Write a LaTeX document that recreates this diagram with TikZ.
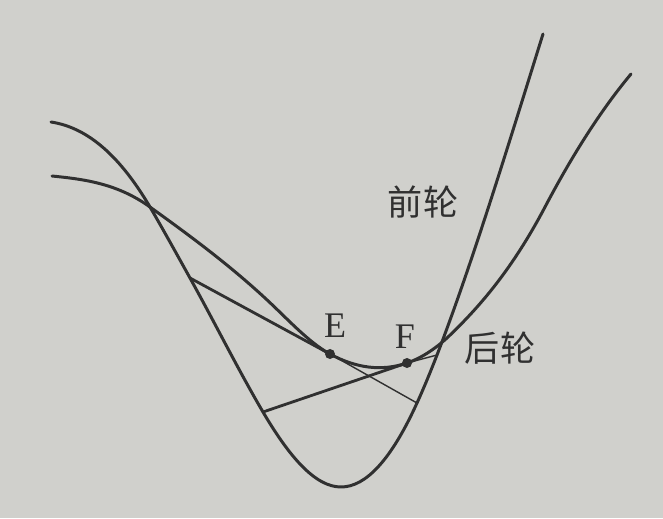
\documentclass[tikz,border=0pt]{standalone}
\usepackage{fontspec}
\setmainfont{Liberation Serif}
\newfontfamily\cjk{Noto Sans CJK SC}
\definecolor{bg}{RGB}{208,208,204}
\definecolor{ink}{RGB}{48,48,48}
\begin{document}
\begin{tikzpicture}[x=0.02cm,y=-0.02cm,
  curve/.style={draw=ink,line width=1.7pt,line cap=round,line join=round},
  thickseg/.style={draw=ink,line width=1.6pt,line cap=round},
  thinseg/.style={draw=ink,line width=0.8pt},
  dotmark/.style={circle,fill=ink,inner sep=0pt,minimum size=5.7pt},
  lbl/.style={text=ink,font=\fontsize{20.5pt}{22pt}\selectfont,inner sep=0pt},
  cjklbl/.style={text=ink,font=\cjk\fontsize{20pt}{22pt}\selectfont,inner sep=0pt}]
\fill[bg] (0,0) rectangle (663,518);
\useasboundingbox (0,0) rectangle (663,518);
% points on the curves
\coordinate (A1) at (190,278);
\coordinate (B1) at (263,412);
\coordinate (A2) at (417,403);
\coordinate (B2) at (437,355);
\coordinate (E) at (330,354);
\coordinate (F) at (407,363);
% steep curve
\draw[curve] (51,122) .. controls (84,127) and (117,150.9) .. (150,207)
  .. controls (163.3,229.7) and (176.7,254.1) .. (A1)
  .. controls (214.3,321.8) and (238.7,370.7) .. (B1)
  .. controls (289,456.2) and (315,487) .. (341,487)
  .. controls (366.3,487) and (391.7,458.7) .. (A2)
  .. controls (423.7,388.3) and (430.3,372.3) .. (B2)
  .. controls (472.3,263.2) and (507.7,147) .. (543,34);
% shallow curve
\draw[curve] (52,176) .. controls (84.7,179.3) and (117.3,183.5) .. (150,207)
  .. controls (188.3,234.6) and (226.7,262.7) .. (265,298)
  .. controls (286.7,318) and (308.3,342.2) .. (E)
  .. controls (355.7,368) and (381.3,371.7) .. (F)
  .. controls (420.3,358.5) and (433.7,350) .. (447,338)
  .. controls (479.7,306.9) and (512.3,269.1) .. (545,207)
  .. controls (573.7,152.5) and (602.3,108.4) .. (631,74);
% tangent lines
\draw[thickseg] (A1) -- (E);
\draw[thinseg] (E) -- (A2);
\draw[thickseg] (B1) -- (F);
\draw[thinseg] (F) -- (B2);
\node[dotmark] (Ed) at (E) {};
\node[dotmark] (Fd) at (F) {};
% labels
\node[lbl] (El) at (335,326) {E};
\node[lbl] (Fl) at (405,337) {F};
\node[cjklbl] (front) at (423,202) {前轮};
\node[cjklbl] (rear) at (500,348) {后轮};
\end{tikzpicture}
\end{document}
